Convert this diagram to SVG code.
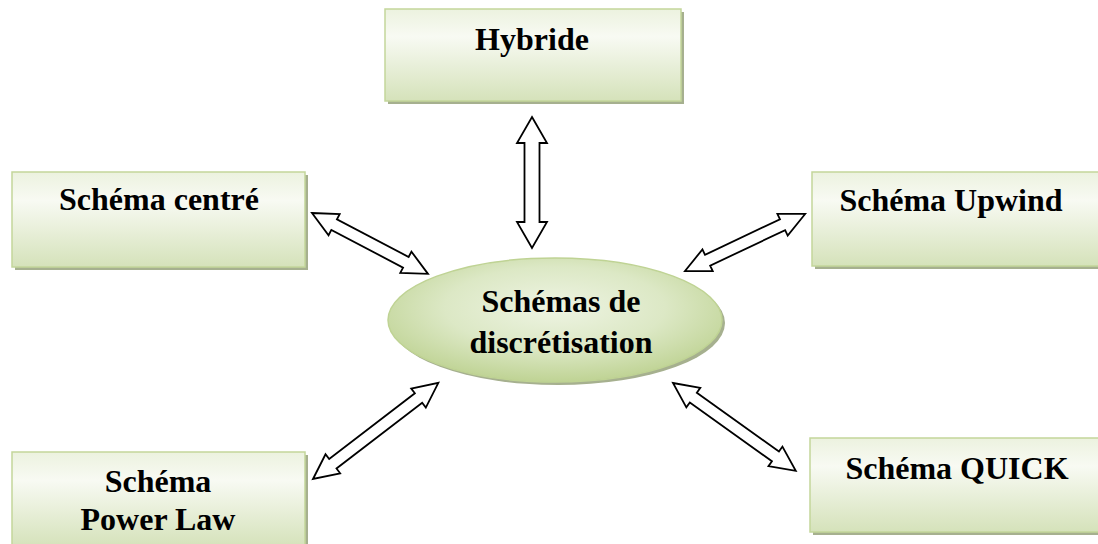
<svg xmlns="http://www.w3.org/2000/svg" width="1098" height="544" viewBox="0 0 1098 544">
<defs>
<linearGradient id="boxg" x1="0" y1="0" x2="0" y2="1">
<stop offset="0" stop-color="#ecf2df"/>
<stop offset="0.3" stop-color="#f8faf3"/>
<stop offset="1" stop-color="#d5e2ba"/>
</linearGradient>
<radialGradient id="ellg" cx="0.5" cy="0.4" r="0.6">
<stop offset="0" stop-color="#eef4e3"/>
<stop offset="0.55" stop-color="#dce8c5"/>
<stop offset="1" stop-color="#bfd394"/>
</radialGradient>
<style>
.shadow{fill:#a6b08f}
.box{fill:url(#boxg);stroke:#c3d69b;stroke-width:1.5}
.lbl{font-family:"Liberation Serif","Times New Roman",serif;font-weight:bold;font-size:32px;fill:#000;text-anchor:middle}
.arr{fill:#fff;stroke:#000;stroke-width:1.8;stroke-linejoin:miter}
</style>
</defs>
<rect width="1098" height="544" fill="#fff"/>
<g id="node-hybride">
<rect class="shadow" x="388" y="12" width="296" height="92"/>
<rect class="box" x="385" y="9" width="296" height="92"/>
<text class="lbl" x="532" y="50">Hybride</text>
</g>
<g id="node-centre">
<rect class="shadow" x="15" y="175" width="293" height="95"/>
<rect class="box" x="12" y="172" width="293" height="95"/>
<text class="lbl" x="159" y="210">Schéma centré</text>
</g>
<g id="node-upwind">
<rect class="shadow" x="815" y="175" width="293" height="94"/>
<rect class="box" x="812" y="172" width="293" height="94"/>
<text class="lbl" x="951" y="211">Schéma Upwind</text>
</g>
<g id="node-quick">
<rect class="shadow" x="813" y="441" width="293" height="94"/>
<rect class="box" x="810" y="438" width="293" height="94"/>
<text class="lbl" x="957" y="479">Schéma QUICK</text>
</g>
<g id="node-powerlaw">
<rect class="shadow" x="15" y="455" width="293" height="95"/>
<rect class="box" x="12" y="452" width="293" height="95"/>
<text class="lbl" x="158" y="492">Schéma</text>
<text class="lbl" x="158" y="530">Power Law</text>
</g>
<g id="node-center">
<ellipse cx="558" cy="323" rx="167" ry="62" fill="#a6b08f"/>
<ellipse cx="555" cy="320" rx="167" ry="62" fill="url(#ellg)" stroke="#bfd394" stroke-width="1.5"/>
<text class="lbl" x="561" y="312">Schémas de</text>
<text class="lbl" x="561" y="353">discrétisation</text>
</g>
<g id="connectors">
<path class="arr" transform="translate(532,117) rotate(90)" d="M0,0 L26,-15 L26,-7.5 L105,-7.5 L105,-15 L131,0 L105,15 L105,7.5 L26,7.5 L26,15 Z"/>
<path class="arr" transform="translate(312,213) rotate(27.7)" d="M0,0 L25,-12 L25,-6 L106,-6 L106,-12 L131,0 L106,12 L106,6 L25,6 L25,12 Z"/>
<path class="arr" transform="translate(685,271) rotate(-25.4)" d="M0,0 L25,-12 L25,-6 L108,-6 L108,-12 L133,0 L108,12 L108,6 L25,6 L25,12 Z"/>
<path class="arr" transform="translate(313,479) rotate(-37.5)" d="M0,0 L25,-12 L25,-6 L133,-6 L133,-12 L158,0 L133,12 L133,6 L25,6 L25,12 Z"/>
<path class="arr" transform="translate(673,383) rotate(35.6)" d="M0,0 L25,-12 L25,-6 L126,-6 L126,-12 L151,0 L126,12 L126,6 L25,6 L25,12 Z"/>
</g>
</svg>
